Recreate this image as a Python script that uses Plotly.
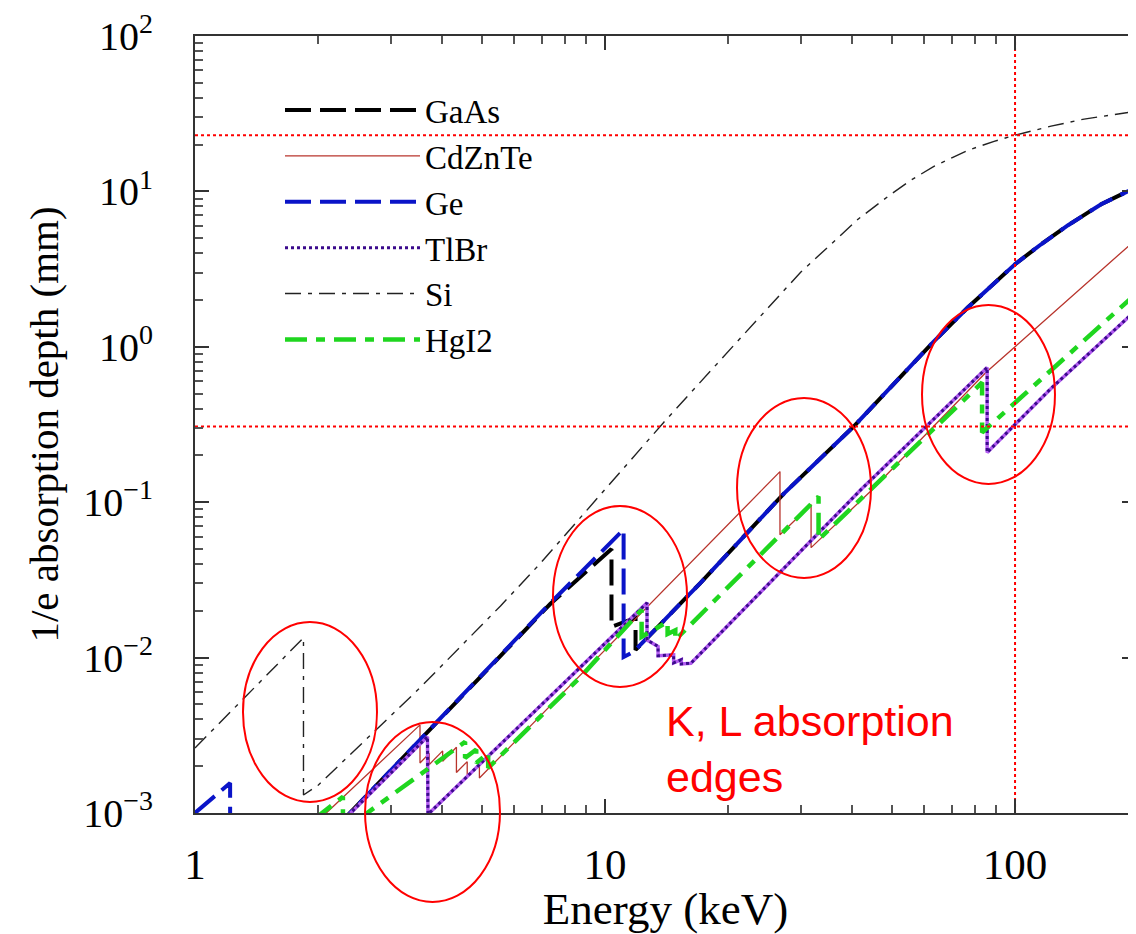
import plotly.graph_objects as go

# ---------------- data ----------------
gaas_E = [1.8, 2.39, 7.36, 10.37, 10.37, 11.87, 11.87, 17.1, 27.3, 40.4, 52.7, 63.4, 76.8, 100, 115.8, 134.7, 162.2, 200]
gaas_V = [0.00046, 0.00100, 0.0222, 0.050, 0.0158, 0.0180, 0.0112, 0.0303, 0.1136, 0.307, 0.654, 1.083, 1.795,
          3.40, 4.57, 6.06, 8.27, 10.8]

cdznte_E = [2.09, 3.538, 3.538, 3.727, 3.727, 4.018, 4.018, 4.341, 4.341, 4.612, 4.612, 4.939, 4.939,
            26.71, 26.71, 31.81, 31.81, 44.5, 84.9, 100, 200]
cdznte_V = [0.00100, 0.00369, 0.00210, 0.00242, 0.00205, 0.00251, 0.00215, 0.00265, 0.00182, 0.00214, 0.00172,
            0.00207, 0.00168, 0.1574, 0.0618, 0.0966, 0.0510, 0.118, 0.684, 1.00, 5.07]

ge_E = [1.0, 1.218, 1.218, 2.39, 7.36, 11.10, 11.10, 11.74, 17.1, 27.3, 40.4, 52.7, 63.4, 76.8, 100, 115.8,
        134.7, 162.2, 200]
ge_V = [0.00100, 0.00156, 0.00016, 0.00100, 0.0225, 0.0666, 0.0101, 0.0109, 0.0303, 0.1136, 0.307, 0.654,
        1.083, 1.795, 3.40, 4.57, 6.06, 8.27, 10.8]

tlbr_E = [2.2, 3.69, 3.70, 8.71, 12.66, 12.66, 13.47, 13.47, 14.70, 14.70, 15.35, 15.35, 16.2, 42.1,
          85.5, 85.5, 122.4, 200]
tlbr_V = [0.00080, 0.0031, 0.00098, 0.00873, 0.0225, 0.0130, 0.0118, 0.01028, 0.0104, 0.00925, 0.0097, 0.0091,
          0.0092, 0.1205, 0.736, 0.209, 0.54, 1.78]

si_E = [1.0, 1.839, 1.839, 2.0, 3.54, 5.56, 6.96, 10.14, 13.9, 20.6, 30.0, 41.4, 49.8, 55.7, 63.4, 76.8,
        88.9, 100, 122.4, 147.4, 178.4, 200]
si_V = [0.00262, 0.01342, 0.001306, 0.001514, 0.0064, 0.0215, 0.0405, 0.126, 0.326, 1.02, 3.02, 6.62, 9.59,
        11.8, 14.5, 18.4, 21.0, 23.0, 26.3, 29.2, 31.4, 32.9]

hgi2_E = [1.95, 2.295, 2.295, 2.385, 2.385, 2.63, 4.557, 4.557, 4.852, 4.852, 5.188, 5.188, 8.71,
          12.28, 12.28, 14.21, 14.21, 14.84, 14.84, 33.17, 33.17, 83.1, 83.1, 200]
hgi2_V = [0.00091, 0.00127, 0.00075, 0.00083, 0.00077, 0.00100, 0.00287, 0.00226, 0.00256, 0.00210, 0.00243,
          0.00195, 0.0075, 0.0203, 0.01362, 0.0170, 0.0142, 0.0150, 0.0130, 0.1087, 0.0574, 0.590, 0.281, 2.27]

ref_depths = [23.0, 0.307]
ref_energy = 100
x_ticks = [1, 10, 100]
x_tick_text = ["1", "10", "100"]
y_ticks = [1e-3, 1e-2, 1e-1, 1e0, 1e1, 1e2]
y_tick_text = ["10<sup>\u22123</sup>", "10<sup>\u22122</sup>", "10<sup>\u22121</sup>",
               "10<sup>0</sup>", "10<sup>1</sup>", "10<sup>2</sup>"]
annotation_text = "K, L absorption<br>edges"

SERIF = "Liberation Serif, Times New Roman, serif"

fig = go.Figure()

fig.add_trace(go.Scatter(x=gaas_E, y=gaas_V, mode="lines", name="GaAs",
                         line=dict(color="#000000", width=4, dash="26px,9px")))
fig.add_trace(go.Scatter(x=cdznte_E, y=cdznte_V, mode="lines", name="CdZnTe",
                         line=dict(color="#b8342c", width=1.3)))
fig.add_trace(go.Scatter(x=ge_E, y=ge_V, mode="lines", name="Ge",
                         line=dict(color="#0a14c8", width=4, dash="26px,9px")))
fig.add_trace(go.Scatter(x=tlbr_E, y=tlbr_V, mode="lines", name="TlBr", legendgroup="tlbr",
                         showlegend=False, hoverinfo="skip",
                         line=dict(color="#b25cf0", width=3.5)))
fig.add_trace(go.Scatter(x=tlbr_E, y=tlbr_V, mode="lines", name="TlBr", legendgroup="tlbr",
                         line=dict(color="#3b0a8c", width=3, dash="dot")))
fig.add_trace(go.Scatter(x=si_E, y=si_V, mode="lines", name="Si",
                         line=dict(color="#222222", width=1.4, dash="16px,7px,4px,7px")))
fig.add_trace(go.Scatter(x=hgi2_E, y=hgi2_V, mode="lines", name="HgI2",
                         line=dict(color="#1fd61f", width=4.5, dash="22px,9px,9px,9px")))

# red dotted reference lines
for d in ref_depths:
    fig.add_trace(go.Scatter(x=[1, 200], y=[d, d], mode="lines", showlegend=False, hoverinfo="skip",
                             line=dict(color="#ff0000", width=2, dash="dot")))
fig.add_trace(go.Scatter(x=[ref_energy, ref_energy], y=[1e-3, 1e2], mode="lines", showlegend=False,
                         hoverinfo="skip", line=dict(color="#ff0000", width=2, dash="dot")))

# red ellipses marking the absorption edges (paper coordinates)
ellipses = [(0.051, 0.1934, 0.0142, 0.2458),
            (0.1807, 0.3241, -0.1145, 0.1171),
            (0.3804, 0.5229, 0.1622, 0.3951),
            (0.5760, 0.7184, 0.3024, 0.5341),
            (0.7726, 0.9139, 0.4234, 0.6538)]
for x0, x1, y0, y1 in ellipses:
    fig.add_shape(type="circle", xref="paper", yref="paper", x0=x0, x1=x1, y0=y0, y1=y1,
                  line=dict(color="#ff0000", width=2))

fig.add_annotation(xref="paper", yref="paper", x=(664 - 195) / 941, y=(813 - 695) / 777,
                   xanchor="left", yanchor="top", align="left", showarrow=False,
                   text=annotation_text,
                   font=dict(family="Liberation Sans, Arial, sans-serif", size=43, color="#ff0000"))

minor_x = [m * 10 ** d for d in range(0, 3) for m in range(2, 10)]
minor_y = [m * 10.0 ** d for d in range(-3, 2) for m in range(2, 10)]

fig.update_layout(
    width=1128, height=926,
    margin=dict(l=187, r=0, t=28, b=121, pad=0),
    plot_bgcolor="white", paper_bgcolor="white",
    showlegend=True,
    legend=dict(x=(280 - 195) / 941, y=(813 - 82) / 777, xanchor="left", yanchor="top",
                bgcolor="rgba(0,0,0,0)", borderwidth=0,
                font=dict(family=SERIF, size=33, color="#000"),
                itemwidth=135, tracegroupgap=0),
    xaxis=dict(type="log", range=[0, 2.295], tickmode="array", tickvals=x_ticks, ticktext=x_tick_text,
               ticks="inside", ticklen=14, tickwidth=2, tickcolor="#333",
               showline=True, linecolor="#333", linewidth=2, mirror="ticks", showgrid=False, zeroline=False,
               minor=dict(tickmode="array", tickvals=minor_x, ticks="inside", ticklen=8, tickwidth=1.5,
                          tickcolor="#555", showgrid=False),
               tickfont=dict(family=SERIF, size=43, color="#000"), ticklabelstandoff=12,
               title=dict(text="Energy (keV)", font=dict(family=SERIF, size=45, color="#000"), standoff=2),
               automargin=False),
    yaxis=dict(type="log", range=[-3, 2], tickmode="array", tickvals=y_ticks, ticktext=y_tick_text,
               ticks="inside", ticklen=14, tickwidth=2, tickcolor="#333",
               showline=True, linecolor="#333", linewidth=2, mirror="ticks", showgrid=False, zeroline=False,
               minor=dict(tickmode="array", tickvals=minor_y, ticks="inside", ticklen=8, tickwidth=1.5,
                          tickcolor="#555", showgrid=False),
               tickfont=dict(family=SERIF, size=40, color="#000"), ticklabelstandoff=32,
               ticklabeloverflow="allow",
               title=dict(text="1/e absorption depth (mm)", font=dict(family=SERIF, size=41, color="#000"),
                          standoff=12),
               automargin=False),
)

fig.write_html("out.html")
